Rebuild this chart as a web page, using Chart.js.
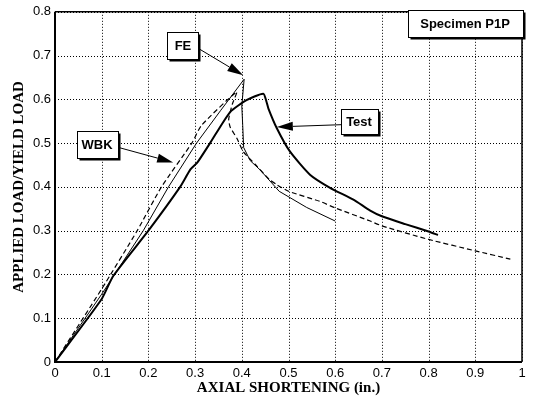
<!DOCTYPE html>
<html>
<head>
<meta charset="utf-8">
<script src="https://cdn.jsdelivr.net/npm/chart.js@4/dist/chart.umd.min.js"></script>
<style>
  html, body { margin: 0; padding: 0; background: #fff; }
  #wrap { width: 535px; height: 404px; }
</style>
</head>
<body>
<div id="wrap"><canvas id="loadChart" width="535" height="404"></canvas></div>
<script>
// Axial shortening (in.) vs applied load / yield load, specimen P1P
const testX = [0, 0.1, 0.125, 0.2, 0.268, 0.29, 0.305, 0.332, 0.375, 0.41, 0.446, 0.453, 0.457, 0.475, 0.503, 0.546, 0.589, 0.639, 0.675, 0.7, 0.75, 0.8, 0.82];
const testY = [0, 0.144, 0.197, 0.3, 0.4, 0.44, 0.456, 0.5, 0.571, 0.598, 0.613, 0.594, 0.579, 0.534, 0.481, 0.428, 0.398, 0.371, 0.346, 0.333, 0.315, 0.298, 0.29];

const feX = [0, 0.1, 0.189, 0.243, 0.303, 0.355, 0.405, 0.4, 0.402, 0.404, 0.418, 0.439, 0.48, 0.539, 0.6];
const feY = [0, 0.155, 0.3, 0.4, 0.5, 0.575, 0.646, 0.585, 0.54, 0.49, 0.46, 0.439, 0.39, 0.353, 0.322];

const wbkX = [0, 0.1, 0.176, 0.228, 0.293, 0.314, 0.389, 0.38, 0.372, 0.375, 0.39, 0.403, 0.43, 0.46, 0.475, 0.5, 0.567, 0.6, 0.675, 0.7, 0.8, 0.9, 0.975];
const wbkY = [0, 0.167, 0.3, 0.4, 0.5, 0.541, 0.617, 0.59, 0.555, 0.537, 0.51, 0.481, 0.45, 0.416, 0.405, 0.39, 0.367, 0.352, 0.322, 0.311, 0.28, 0.254, 0.235];

const xTicks = [0, 0.1, 0.2, 0.3, 0.4, 0.5, 0.6, 0.7, 0.8, 0.9, 1];
const yTicks = [0, 0.1, 0.2, 0.3, 0.4, 0.5, 0.6, 0.7, 0.8];

// callout boxes: text, box centre and arrow tip in data units
const callouts = [
  { text: "FE", x: 0.274, y: 0.723, w: 31, h: 27, tipX: 0.403, tipY: 0.655, from: "right" },
  { text: "WBK", x: 0.09, y: 0.497, w: 41, h: 27, tipX: 0.253, tipY: 0.456, from: "right" },
  { text: "Test", x: 0.651, y: 0.549, w: 37, h: 25, tipX: 0.475, tipY: 0.537, from: "left" },
  { text: "Specimen P1P", x: 0.878, y: 0.773, w: 115, h: 27 },
];

const toPoints = (xs, ys) => xs.map((x, i) => ({ x, y: ys[i] }));

// dotted grid at every tick, drawn under the curves
const gridPlugin = {
  id: "dottedGrid",
  beforeDatasetsDraw(chart) {
    const { ctx, chartArea: a, scales } = chart;
    ctx.save();
    ctx.strokeStyle = "#000";
    ctx.lineWidth = 1;
    ctx.setLineDash([1, 2]);
    scales.x.ticks.forEach((t) => {
      const px = Math.round(scales.x.getPixelForValue(t.value)) + 0.5;
      ctx.beginPath();
      ctx.moveTo(px, a.top);
      ctx.lineTo(px, a.bottom);
      ctx.stroke();
    });
    scales.y.ticks.forEach((t) => {
      const py = Math.round(scales.y.getPixelForValue(t.value)) + 0.5;
      ctx.beginPath();
      ctx.moveTo(a.left, py);
      ctx.lineTo(a.right, py);
      ctx.stroke();
    });
    ctx.restore();
  },
};

// solid frame round the plot
const framePlugin = {
  id: "frame",
  afterDatasetsDraw(chart) {
    const { ctx, chartArea: a } = chart;
    ctx.save();
    ctx.strokeStyle = "#000";
    ctx.lineWidth = 1.5;
    ctx.beginPath();
    ctx.moveTo(a.left, a.top);
    ctx.lineTo(a.right, a.top);
    ctx.lineTo(a.right, a.bottom);
    ctx.stroke();
    ctx.lineWidth = 2;
    ctx.beginPath();
    ctx.moveTo(a.left, a.top);
    ctx.lineTo(a.left, a.bottom);
    ctx.lineTo(a.right, a.bottom);
    ctx.stroke();
    ctx.restore();
  },
};

function drawArrow(ctx, x0, y0, x1, y1) {
  const ang = Math.atan2(y1 - y0, x1 - x0);
  const headLen = 16;
  const headW = 4.5;
  const bx = x1 - headLen * Math.cos(ang);
  const by = y1 - headLen * Math.sin(ang);
  ctx.beginPath();
  ctx.moveTo(x0, y0);
  ctx.lineTo(bx, by);
  ctx.stroke();
  ctx.beginPath();
  ctx.moveTo(x1, y1);
  ctx.lineTo(bx + headW * Math.sin(ang), by - headW * Math.cos(ang));
  ctx.lineTo(bx - headW * Math.sin(ang), by + headW * Math.cos(ang));
  ctx.closePath();
  ctx.fill();
}

const calloutPlugin = {
  id: "callouts",
  afterDraw(chart) {
    const { ctx, scales } = chart;
    ctx.save();
    ctx.strokeStyle = "#000";
    ctx.fillStyle = "#000";
    ctx.lineWidth = 1;
    callouts.forEach((c) => {
      const cx = scales.x.getPixelForValue(c.x);
      const cy = scales.y.getPixelForValue(c.y);
      const left = Math.round(cx - c.w / 2) + 0.5;
      const top = Math.round(cy - c.h / 2) + 0.5;

      if (c.tipX !== undefined) {
        const sx = c.from === "right" ? left + c.w : left;
        drawArrow(ctx, sx, cy + 3, scales.x.getPixelForValue(c.tipX), scales.y.getPixelForValue(c.tipY));
      }

      // box with a heavier shadow edge on right and bottom
      ctx.fillStyle = "#000";
      ctx.fillRect(left + 2, top + 2, c.w, c.h);
      ctx.fillStyle = "#fff";
      ctx.fillRect(left, top, c.w, c.h);
      ctx.strokeRect(left, top, c.w, c.h);

      ctx.fillStyle = "#000";
      ctx.font = "bold 13px 'Liberation Sans', Arial, sans-serif";
      ctx.textAlign = "center";
      ctx.textBaseline = "middle";
      ctx.fillText(c.text, cx, cy + 1);
    });
    ctx.restore();
  },
};

const tickFont = { family: "'Liberation Sans', Arial, sans-serif", size: 13 };
const titleFont = { family: "'Liberation Serif', 'Times New Roman', serif", size: 15, weight: "bold" };

new Chart(document.getElementById("loadChart"), {
  type: "scatter",
  data: {
    datasets: [
      {
        label: "Test",
        data: toPoints(testX, testY),
        showLine: true,
        borderColor: "#000",
        borderWidth: 2,
        pointRadius: 0,
        tension: 0.2,
      },
      {
        label: "FE",
        data: toPoints(feX, feY),
        showLine: true,
        borderColor: "#000",
        borderWidth: 1,
        pointRadius: 0,
        tension: 0,
      },
      {
        label: "WBK",
        data: toPoints(wbkX, wbkY),
        showLine: true,
        borderColor: "#000",
        borderWidth: 1.2,
        borderDash: [5, 3],
        pointRadius: 0,
        tension: 0.2,
      },
    ],
  },
  options: {
    responsive: false,
    animation: false,
    layout: { padding: { top: 9, right: 13, left: 0, bottom: 0 } },
    plugins: {
      legend: { display: false },
      tooltip: { enabled: false },
    },
    scales: {
      x: {
        type: "linear",
        min: 0,
        max: 1,
        afterFit: (scale) => { scale.height = 42; },
        afterBuildTicks: (scale) => { scale.ticks = xTicks.map((v) => ({ value: v })); },
        ticks: {
          color: "#000",
          font: tickFont,
          padding: 4,
          maxRotation: 0,
          callback: (v) => String(v),
        },
        grid: { display: false, drawTicks: false },
        border: { display: false },
        title: {
          display: true,
          text: "AXIAL SHORTENING (in.)",
          color: "#000",
          font: titleFont,
          padding: { top: 0, bottom: 7 },
        },
      },
      y: {
        type: "linear",
        min: 0,
        max: 0.8,
        afterFit: (scale) => { scale.width = 55; },
        afterBuildTicks: (scale) => { scale.ticks = yTicks.map((v) => ({ value: v })); },
        ticks: {
          color: "#000",
          font: tickFont,
          padding: 4,
          callback: (v) => String(v),
        },
        grid: { display: false, drawTicks: false },
        border: { display: false },
        title: {
          display: true,
          text: "APPLIED LOAD/YIELD LOAD",
          color: "#000",
          font: titleFont,
          padding: { top: 10, bottom: 0 },
        },
      },
    },
  },
  plugins: [gridPlugin, framePlugin, calloutPlugin],
});
</script>
</body>
</html>
